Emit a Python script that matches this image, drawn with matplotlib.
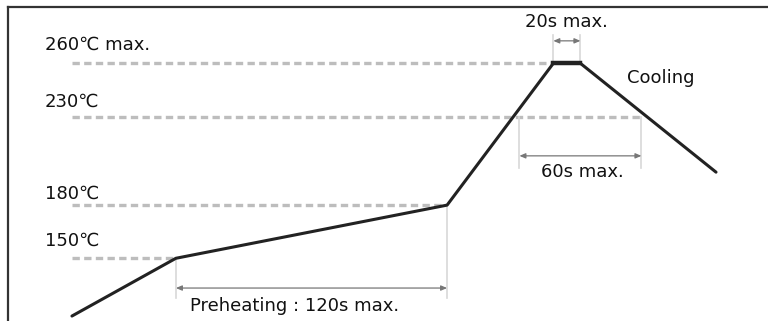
import matplotlib
matplotlib.use("Agg")
import matplotlib.pyplot as plt

# reflow profile (schematic): time in s, temperature in degC
profile_time = [0, 46, 166, 213, 225, 285]
profile_temp = [117.4, 150, 180, 260, 260, 198.6]

# reference levels
level_temp = [260, 230, 180, 150]
level_label = ["260℃ max.", "230℃", "180℃", "150℃"]
level_end = [213, 252, 166, 46]
label_temp = [270.3, 238.1, 186.2, 159.7]

# time spans
peak_span = (213, 225)
above230_span = (198, 252)
preheat_span = (46, 166)

fig = plt.figure(figsize=(7.68, 3.21), dpi=100)
ax = fig.add_axes([8 / 768, 0, 760 / 768, 314 / 321])
ax.set_xlim(-28.3, 308)
ax.set_ylim(114.6, 291.8)
for s in ["right", "bottom"]:
    ax.spines[s].set_visible(False)
for s in ["left", "top"]:
    ax.spines[s].set_color("#333333")
    ax.spines[s].set_linewidth(1.6)
ax.set_xticks([])
ax.set_yticks([])

txt = dict(fontsize=13, color="#111111", family="DejaVu Sans")

# dashed levels
for T, lab, t_end, ty in zip(level_temp, level_label, level_end, label_temp):
    ax.plot([0, t_end], [T, T], color="#bdbdbd", lw=2.4,
            dashes=(2.2, 1.3), zorder=1)
    ax.text(-11.9, ty, lab, ha="left", va="center", **txt)

# profile
ax.plot(profile_time, profile_temp, color="#222222", lw=2.2,
        solid_joinstyle="round", solid_capstyle="round", zorder=3)
ax.plot(profile_time[3:5], profile_temp[3:5], color="#222222", lw=3.2, zorder=3)

ext = "#d8d8d8"
arr = dict(arrowstyle="<|-|>,head_length=0.35,head_width=0.15",
           color="#777777", lw=0.9, shrinkA=0, shrinkB=0)

# 20s peak
for t in peak_span:
    ax.plot([t, t], [260, 276], color=ext, lw=1.2, zorder=1)
ax.annotate("", xy=(peak_span[0], 272.7), xytext=(peak_span[1], 272.7), arrowprops=arr)
ax.text(219, 283.3, "20s max.", ha="center", va="center", **txt)

ax.text(245.6, 251.7, "Cooling", ha="left", va="center", **txt)

# 60s above 230
for t in above230_span:
    ax.plot([t, t], [230, 200.8], color=ext, lw=1.2, zorder=1)
ax.annotate("", xy=(above230_span[0], 207.8), xytext=(above230_span[1], 207.8), arrowprops=arr)
ax.text(226, 198.6, "60s max.", ha="center", va="center", **txt)

# preheating
ax.plot([preheat_span[0], preheat_span[0]], [150, 127.6], color=ext, lw=1.2, zorder=1)
ax.plot([preheat_span[1], preheat_span[1]], [180, 127.6], color=ext, lw=1.2, zorder=1)
ax.annotate("", xy=(preheat_span[0], 133.2), xytext=(preheat_span[1], 133.2), arrowprops=arr)
ax.text(52.2, 123.0, "Preheating : 120s max.", ha="left", va="center", **txt)

fig.savefig("out.png", dpi=100)
